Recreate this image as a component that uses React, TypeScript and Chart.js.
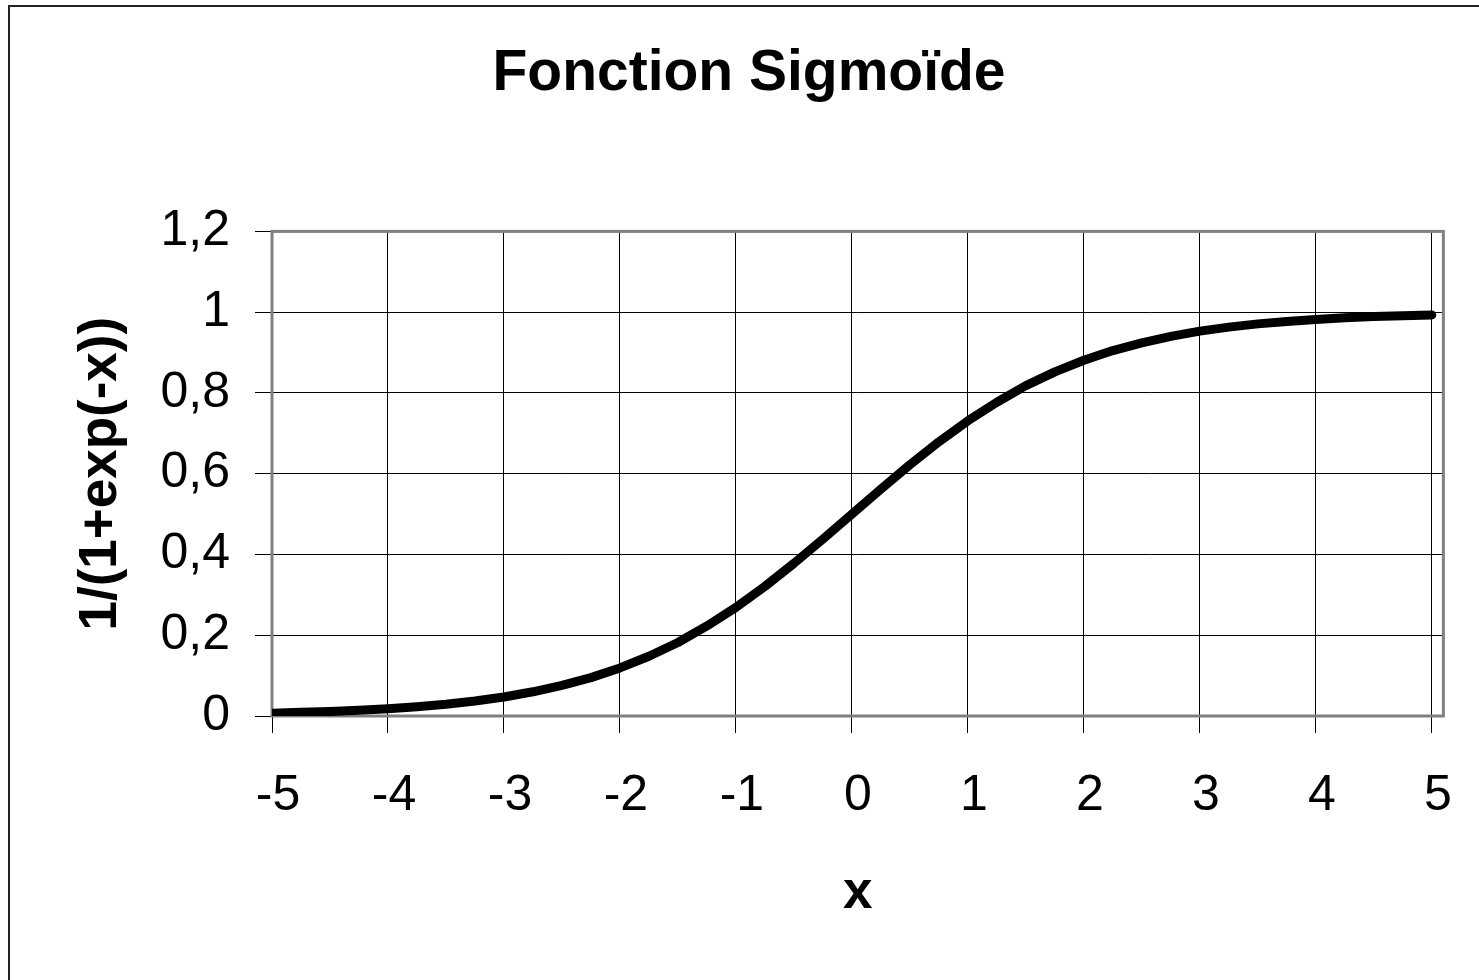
import React, { useEffect, useRef } from "react";
import { Chart, registerables } from "chart.js";

Chart.register(...registerables);

const xValues = [
  -5, -4.75, -4.5, -4.25, -4, -3.75, -3.5, -3.25, -3, -2.75, -2.5, -2.25, -2, -1.75,
  -1.5, -1.25, -1, -0.75, -0.5, -0.25, 0, 0.25, 0.5, 0.75, 1, 1.25, 1.5, 1.75, 2,
  2.25, 2.5, 2.75, 3, 3.25, 3.5, 3.75, 4, 4.25, 4.5, 4.75, 5,
];
const yValues = [
  0.007, 0.009, 0.011, 0.014, 0.018, 0.023, 0.029, 0.037, 0.047, 0.06, 0.076, 0.095,
  0.119, 0.148, 0.182, 0.223, 0.269, 0.321, 0.378, 0.438, 0.5, 0.562, 0.622, 0.679,
  0.731, 0.777, 0.818, 0.852, 0.881, 0.905, 0.924, 0.94, 0.953, 0.963, 0.971, 0.977,
  0.982, 0.986, 0.989, 0.991, 0.993,
];

const xTickValues = [-5, -4, -3, -2, -1, 0, 1, 2, 3, 4, 5];
const xTickLabels = ["-5", "-4", "-3", "-2", "-1", "0", "1", "2", "3", "4", "5"];
const yTickValues = [0, 0.2, 0.4, 0.6, 0.8, 1, 1.2];
const yTickLabels = ["0", "0,2", "0,4", "0,6", "0,8", "1", "1,2"];

const chartTitle = "Fonction Sigmoïde";
const xAxisTitle = "x";
const yAxisTitle = "1/(1+exp(-x))";

const FONT = '"Liberation Sans", Arial, Helvetica, sans-serif';

const plotBorder = {
  id: "plotBorder",
  beforeDatasetsDraw(chart: any) {
    const { ctx, chartArea: a } = chart;
    ctx.save();
    ctx.strokeStyle = "#808080";
    ctx.lineWidth = 3;
    ctx.strokeRect(a.left, a.top, a.right - a.left, a.bottom - a.top);
    ctx.restore();
  },
};

export default function App() {
  const canvasRef = useRef<HTMLCanvasElement | null>(null);

  useEffect(() => {
    const canvas = canvasRef.current;
    if (!canvas) return;
    const chart = new Chart(canvas, {
      type: "line",
      data: {
        datasets: [
          {
            label: yAxisTitle,
            data: xValues.map((x, i) => ({ x, y: yValues[i] })),
            borderColor: "#000000",
            backgroundColor: "#000000",
            borderWidth: 9,
            pointRadius: 0,
            tension: 0,
            fill: false,
            borderCapStyle: "round",
            borderJoinStyle: "round",
          },
        ],
      },
      options: {
        responsive: false,
        animation: false,
        devicePixelRatio: 1,
        layout: { padding: { left: 50, right: 31, top: 0, bottom: 0 } },
        plugins: {
          legend: { display: false },
          tooltip: { enabled: false },
          title: {
            display: true,
            text: chartTitle,
            color: "#000000",
            font: { family: FONT, size: 57, weight: "bold" },
            padding: { top: 40, bottom: 123 },
          },
        },
        scales: {
          x: {
            type: "linear",
            min: -5,
            max: 5.1,
            afterBuildTicks: (s: any) => {
              s.ticks = xTickValues.map((v) => ({ value: v }));
            },
            afterFit: (s: any) => {
              s.height = 264;
            },
            ticks: {
              callback: (_v: any, i: number) => xTickLabels[i],
              color: "#000000",
              font: { family: FONT, size: 50 },
              padding: 33,
              labelOffset: 6,
              maxRotation: 0,
              autoSkip: false,
            },
            grid: { color: "#000000", lineWidth: 1, tickLength: 17, drawTicks: true },
            border: { display: false },
            title: {
              display: true,
              text: xAxisTitle,
              color: "#000000",
              font: { family: FONT, size: 53, weight: "bold" },
              padding: { top: 0, bottom: 55 },
            },
          },
          y: {
            type: "linear",
            min: 0,
            max: 1.2,
            afterBuildTicks: (s: any) => {
              s.ticks = yTickValues.map((v) => ({ value: v }));
            },
            afterFit: (s: any) => {
              s.width = 222;
            },
            ticks: {
              callback: (_v: any, i: number) => yTickLabels[i],
              color: "#000000",
              font: { family: FONT, size: 50 },
              padding: 25,
              autoSkip: false,
            },
            grid: { color: "#000000", lineWidth: 1, tickLength: 17, drawTicks: true },
            border: { display: false },
            title: {
              display: true,
              text: yAxisTitle,
              color: "#000000",
              font: { family: FONT, size: 53, weight: "bold" },
              padding: { top: 20, bottom: 0 },
            },
          },
        },
      },
      plugins: [plotBorder],
    } as any);
    return () => chart.destroy();
  }, []);

  return (
    <>
      <canvas
        ref={canvasRef}
        width={1479}
        height={980}
        style={{ position: "fixed", left: 0, top: 0, width: 1479, height: 980, background: "#ffffff" }}
      />
      <div
        style={{
          position: "fixed",
          left: 8,
          top: 5,
          width: 1471,
          height: 975,
          boxSizing: "border-box",
          borderLeft: "2px solid #222222",
          borderTop: "2px solid #222222",
          pointerEvents: "none",
        }}
      />
    </>
  );
}
